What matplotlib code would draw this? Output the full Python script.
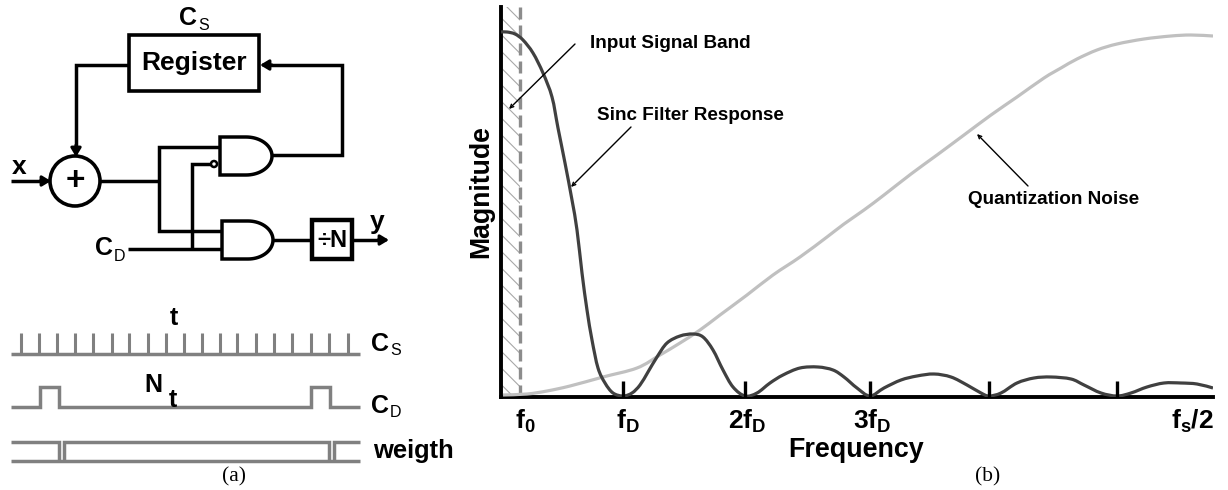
import numpy as np
import matplotlib
matplotlib.use('Agg')
import matplotlib.pyplot as plt
from matplotlib.patches import Circle, Rectangle, PathPatch
from matplotlib.path import Path

plt.rcParams['font.family'] = ['Liberation Sans', 'DejaVu Sans']
plt.rcParams['mathtext.fontset'] = 'custom'
plt.rcParams['mathtext.rm'] = 'Liberation Sans'
plt.rcParams['mathtext.bf'] = 'Liberation Sans:bold'
plt.rcParams['hatch.linewidth'] = 0.8

# spectrum, arbitrary units
sinc_freq = [0, 6, 14, 22, 32, 42, 51, 57, 64, 71, 76, 81, 86, 91, 97, 104, 112, 122,
             131, 139, 147, 156, 166, 179, 192, 202, 212, 222, 232, 244, 256, 269, 282,
             299, 317, 332, 343, 356, 369, 383, 400, 416, 433, 450, 466, 480, 488, 500,
             516, 533, 550, 570, 583, 600, 616, 630, 646, 663, 680, 696, 712]
sinc_mag = [365, 365, 363, 357, 344, 324, 300, 269, 234, 197, 167, 124, 87, 57, 29, 14, 4, 1,
            4, 12, 25, 40, 54, 61, 63, 60, 47, 27, 10, 1, 4, 14, 22,
            29, 30, 27, 20, 9, 1, 9, 17, 21, 23, 20, 12, 4, 1, 4,
            14, 19, 20, 18, 12, 4, 1, 4, 10, 14, 14, 13, 9]
noise_freq = [2, 26, 46, 69, 102, 136, 159, 179, 199, 219, 246, 272, 299, 326, 343, 363,
              383, 410, 436, 463, 490, 516, 543, 560, 576, 596, 616, 643, 670, 690, 712]
noise_mag = [2, 3, 6, 11, 20, 29, 42, 54, 67, 82, 102, 122, 140, 160, 173, 187,
             202, 223, 242, 262, 282, 300, 319, 329, 338, 347, 353, 358, 361, 362, 361]
tick_freq = [122, 244, 369, 488, 616]
band_edge = 19

# timing diagram, panel (a)
cs_ticks = [21, 39, 57, 75, 93, 112, 129, 148, 166, 184, 202, 220, 237, 256, 274, 292, 311, 329, 348]
cd_x = [11, 40, 40, 59, 59, 311, 311, 330, 330, 360]
cd_y = [407, 407, 387, 387, 407, 407, 387, 387, 407, 407]

fig = plt.figure(figsize=(12.28, 4.9), dpi=100)
W, H = 1228, 490

# panel (a) is drawn in figure pixels
ax = fig.add_axes([0, 0, 1, 1])
ax.set_xlim(0, W)
ax.set_ylim(H, 0)
ax.axis('off')


def wire(xs, ys, color='black', lw=2.5, z=2):
    ax.plot(xs, ys, color=color, lw=lw, solid_joinstyle='miter', solid_capstyle='butt', zorder=z)


def head(x0, y0, x1, y1):
    ax.annotate('', xy=(x1, y1), xytext=(x0, y0), zorder=4,
                arrowprops=dict(arrowstyle='-|>,head_width=0.3,head_length=0.5', color='black',
                                lw=2.2, shrinkA=0, shrinkB=0))


def and_gate(x, y0, y1, flat, tip):
    t = np.linspace(np.pi / 2, -np.pi / 2, 40)
    xc = x + flat
    yc = (y0 + y1) / 2
    px = np.r_[x, xc + (tip - xc) * np.cos(t), x, x]
    py = np.r_[y0, yc - (y1 - y0) / 2 * np.sin(t), y1, y0]
    verts = np.c_[px, py]
    codes = [Path.MOVETO] + [Path.LINETO] * (len(verts) - 2) + [Path.CLOSEPOLY]
    ax.add_patch(PathPatch(Path(verts, codes), fc='white', ec='black', lw=2.5,
                           joinstyle='miter', zorder=3))


def btext(x, y, s, size, ha='center', **kw):
    ax.text(x, y, s, fontsize=size, fontweight='bold', ha=ha, va='center', color='black', **kw)


def clock_label(x, y, sub, dy):
    # big bold C with a small plain subscript
    ax.text(x, y, 'C', fontsize=18, fontweight='bold', ha='left', va='center')
    ax.text(x + 19, y + dy, sub, fontsize=11.5, ha='left', va='center')


def smooth_curve(axes, xs, ys, **kw):
    # Catmull-Rom through the read points, only to draw them without corners
    p = np.c_[xs, ys].astype(float)
    q = np.vstack([p[0], p, p[-1]])
    verts = [p[0]]
    for i in range(1, len(q) - 2):
        verts += [q[i] + (q[i + 1] - q[i - 1]) / 6, q[i + 1] - (q[i + 2] - q[i]) / 6, q[i + 1]]
    codes = [Path.MOVETO] + [Path.CURVE4] * (len(verts) - 1)
    axes.add_patch(PathPatch(Path(np.array(verts), codes), fc='none', **kw))


ax.add_patch(Rectangle((129, 35), 130, 56, fc='white', ec='black', lw=2.6, zorder=3))
btext(194, 63, 'Register', 19, zorder=4)
clock_label(179, 18, 'S', 8)

wire([129, 76, 76], [65, 65, 150])
head(76, 145, 76, 157)
wire([11, 44], [181, 181])
head(40, 181, 51, 181)
btext(19, 167, 'x', 19)
ax.add_patch(Circle((75, 181), 25, fc='white', ec='black', lw=2.6, zorder=3))
btext(75, 181, '+', 24, zorder=4)

wire([100, 159], [181, 181])
wire([220, 159, 159, 222], [147, 147, 231, 231])
wire([211, 192, 192], [164, 164, 249])
wire([128, 222], [249, 249])
and_gate(220, 137, 175, 26, 272)
and_gate(222, 221, 259, 26, 273)
ax.add_patch(Circle((214, 164), 3, fc='white', ec='black', lw=1.8, zorder=4))

wire([272, 342, 342, 268], [155, 155, 65, 65])
head(272, 65, 260, 65)
wire([273, 312], [240, 240])
ax.add_patch(Rectangle((312, 220), 40, 39, fc='white', ec='black', lw=3.2, zorder=3))
btext(332, 240, '÷N', 17, zorder=4)
wire([352, 382], [240, 240])
head(378, 240, 389, 240)
btext(377, 222, 'y', 19)
clock_label(95, 248, 'D', 8)

gray = '#808080'
wire([11, 360], [354, 354], color=gray, lw=2.5)
ax.vlines(cs_ticks, 333, 354, color=gray, lw=2.2)
wire(cd_x, cd_y, color=gray, lw=2.5)
wire([11, 59, 59], [442, 442, 461], color=gray, lw=2.5)
wire([64, 64, 329, 329], [461, 442, 442, 461], color=gray, lw=2.5)
wire([334, 334, 360], [461, 442, 442], color=gray, lw=2.5)
wire([11, 360], [461, 461], color=gray, lw=2.5)

btext(174, 318, 't', 18)
btext(153, 385, 'N', 18)
btext(173, 400, 't', 18)
clock_label(371, 344, 'S', 6)
clock_label(371, 406, 'D', 6)
btext(373, 451, 'weigth', 18.4, ha='left')
ax.text(234, 477, '(a)', fontsize=15.5, family='Liberation Serif', ha='center', va='center')
ax.text(988, 477, '(b)', fontsize=15.5, family='Liberation Serif', ha='center', va='center')

# panel (b) spectrum
ax2 = fig.add_axes([501 / W, 1 - 397 / H, 712 / W, 390 / H])
ax2.patch.set_alpha(0)
ax2.set_xlim(0, 712)
ax2.set_ylim(0, 390)
ax2.set_xticks([])
ax2.set_yticks([])
for s in ['top', 'right']:
    ax2.spines[s].set_visible(False)
for s in ['left', 'bottom']:
    ax2.spines[s].set_linewidth(2.8)

ax2.add_patch(Rectangle((0, 0), band_edge, 390, fc='none', ec='#a8a8a8', hatch='\\\\', lw=0))
ax2.axvline(band_edge, color='#8c8c8c', lw=2.4, dashes=(3.6, 1.8))
smooth_curve(ax2, noise_freq, noise_mag, ec='#c0c0c0', lw=2.3, zorder=3)
smooth_curve(ax2, sinc_freq, sinc_mag, ec='#404040', lw=2.3, zorder=4)
ax2.vlines(tick_freq, 0, 16, color='black', lw=2.4, zorder=5)

for xt, s in [(24, r'$\mathbf{f_0}$'), (127, r'$\mathbf{f_D}$'), (246, r'$\mathbf{2f_D}$'),
              (371, r'$\mathbf{3f_D}$'), (691, r'$\mathbf{f_s/2}$')]:
    ax2.text(xt, -24, s, fontsize=19, ha='center', va='center', clip_on=False)
ax2.text(355, -53, 'Frequency', fontsize=19.4, fontweight='bold', ha='center', va='center')
ax2.text(-20, 205, 'Magnitude', fontsize=19.2, fontweight='bold', rotation=90, ha='center', va='center')

arrow = dict(arrowstyle='->,head_width=0.12,head_length=0.25', color='black', lw=1.0, shrinkA=0, shrinkB=0)
ax2.annotate('', xy=(8, 288), xytext=(74, 353), arrowprops=arrow, zorder=6)
ax2.annotate('', xy=(70, 210), xytext=(130, 270), arrowprops=arrow, zorder=6)
ax2.annotate('', xy=(476, 263), xytext=(527, 211), arrowprops=arrow, zorder=6)
ax2.text(89, 353, 'Input Signal Band', fontsize=13.6, fontweight='bold', va='center')
ax2.text(96, 282, 'Sinc Filter Response', fontsize=13.6, fontweight='bold', va='center')
ax2.text(467, 197, 'Quantization Noise', fontsize=13.6, fontweight='bold', va='center')

fig.savefig('out.png', dpi=100)
